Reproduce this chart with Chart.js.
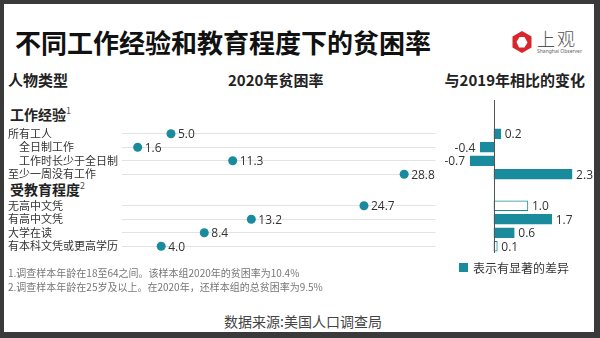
<!DOCTYPE html>
<html>
<head>
<meta charset="utf-8">
<script src="https://cdn.jsdelivr.net/npm/chart.js@4"></script>
<style>
  html, body { margin: 0; padding: 0; }
  body { width: 600px; height: 338px; background: #3a3a3a; position: relative; overflow: hidden;
         font-family: "Noto Sans CJK SC", "Noto Sans", sans-serif; color: #222; }
  .frame { position: absolute; left: 4px; top: 4px; width: 590px; height: 328px; background: #fff; }
  .t { position: absolute; white-space: nowrap; }
  .title { left: 15px; top: 26px; font-size: 26px; line-height: 32px; font-weight: 700; color: #111; }
  .head { top: 71px; font-size: 15px; line-height: 18px; font-weight: 700; color: #222; }
  .group { left: 10px; font-size: 14px; line-height: 18px; font-weight: 700; color: #222; }
  .group sup { font-size: 9px; font-weight: 400; color: #555; vertical-align: top; position: relative; top: -3px; }
  .note { left: 8px; font-size: 10px; line-height: 14px; color: #777; }
  canvas { position: absolute; }
</style>
</head>
<body>
<div class="frame"></div>

<div class="t title">不同工作经验和教育程度下的贫困率</div>

<!-- logo -->
<svg class="t" style="left:510px;top:30px" width="24" height="24" viewBox="0 0 24 24">
  <polygon points="12,1 21.5,6.5 21.5,17.5 12,23 2.5,17.5 2.5,6.5" fill="#d8262c"/>
  <polygon points="14.5,7 17.5,12.5 14.5,17.5 9,17.5 6.5,12 9.5,7" fill="#fff"/>
</svg>
<div class="t" style="left:537px;top:27px;font-size:18px;line-height:22px;color:#555;font-weight:300;letter-spacing:2px;">上观</div>
<div class="t" style="left:537px;top:48px;font-size:5px;line-height:6px;color:#666;font-family:'Noto Sans';">Shanghai Observer</div>

<div class="t head" style="left:8px;">人物类型</div>
<div class="t head" style="left:228px;">2020年贫困率</div>
<div class="t head" style="right:15px;">与2019年相比的变化</div>

<div class="t group" style="top:105px;">工作经验<sup>1</sup></div>
<div class="t group" style="top:180px;">受教育程度<sup>2</sup></div>

<canvas id="rate-work" width="432" height="74" style="left:8px;top:117px;"></canvas>
<canvas id="change-work" width="170" height="74" style="left:430px;top:117px;"></canvas>
<canvas id="rate-edu" width="432" height="74" style="left:8px;top:189px;"></canvas>
<canvas id="change-edu" width="170" height="74" style="left:430px;top:189px;"></canvas>

<div id="zero-line" style="position:absolute;top:100px;height:153px;width:1px;background:#555;"></div>

<div class="t note" style="top:266px;">1.调查样本年龄在18至64之间。该样本组2020年的贫困率为10.4%</div>
<div class="t note" style="top:280px;">2.调查样本年龄在25岁及以上。在2020年，还样本组的总贫困率为9.5%</div>

<div class="t" style="left:459px;top:263px;width:9px;height:9px;background:#1a8b9d;"></div>
<div class="t" style="left:473px;top:260px;font-size:12px;line-height:16px;color:#333;">表示有显著的差异</div>

<div class="t" style="left:0;width:606px;text-align:center;top:311px;font-size:14px;line-height:20px;color:#444;">数据来源:美国人口调查局</div>

<script>
// Data
const workLabels = ['所有工人', '\u3000全日制工作', '\u3000工作时长少于全日制', '至少一周没有工作'];
const workRate = [5.0, 1.6, 11.3, 28.8];
const workChange = [0.2, -0.4, -0.7, 2.3];
const workSignificant = [true, true, true, true];

const eduLabels = ['无高中文凭', '有高中文凭', '大学在读', '有本科文凭或更高学历'];
const eduRate = [24.7, 13.2, 8.4, 4.0];
const eduChange = [1.0, 1.7, 0.6, 0.1];
const eduSignificant = [false, true, true, false];

const rateRange = [0, 32];
const changeRange = [-1.88, 3.12];

const TEAL = '#1a8b9d';
const NUM_FONT = '12px "Open Sans", sans-serif';
const PAD = { top: 10, bottom: 10, left: 0, right: 0 };

// value labels next to the dots
const dotLabels = {
    id: 'dotLabels',
    afterDatasetsDraw(chart) {
        const ctx = chart.ctx;
        const values = chart.data.datasets[0].data;
        ctx.save();
        ctx.fillStyle = '#333';
        ctx.font = NUM_FONT;
        ctx.textAlign = 'left';
        ctx.textBaseline = 'middle';
        chart.getDatasetMeta(0).data.forEach((pt, i) => {
            ctx.fillText(values[i].x.toFixed(1), pt.x + 7, pt.y + 1);
        });
        ctx.restore();
    }
};

// value labels at the bar ends
const barLabels = {
    id: 'barLabels',
    afterDatasetsDraw(chart) {
        const ctx = chart.ctx;
        const values = chart.data.datasets[0].data;
        ctx.save();
        ctx.fillStyle = '#333';
        ctx.font = NUM_FONT;
        ctx.textBaseline = 'middle';
        chart.getDatasetMeta(0).data.forEach((bar, i) => {
            const v = values[i];
            if (v < 0) {
                ctx.textAlign = 'right';
                ctx.fillText(v.toFixed(1), bar.x - 5, bar.y + 1);
            } else {
                ctx.textAlign = 'left';
                ctx.fillText(v.toFixed(1), bar.x + 4, bar.y + 1);
            }
        });
        ctx.restore();
    }
};

function makeRateChart(id, labels, rates) {
    return new Chart(document.getElementById(id), {
        type: 'scatter',
        data: {
            labels: labels,
            datasets: [{
                data: rates.map((v, i) => ({ x: v, y: labels[i] })),
                pointRadius: 4.5,
                pointBackgroundColor: TEAL,
                pointBorderWidth: 0,
                clip: false
            }]
        },
        options: {
            responsive: false,
            animation: false,
            layout: { padding: PAD },
            plugins: { legend: { display: false }, tooltip: { enabled: false } },
            scales: {
                x: { type: 'linear', min: rateRange[0], max: rateRange[1], display: false },
                y: {
                    type: 'category',
                    labels: labels,
                    offset: true,
                    afterFit(scale) { scale.width = 114; },
                    grid: { offset: false, color: '#e3e3e3', lineWidth: 1, drawTicks: false },
                    border: { display: false },
                    ticks: {
                        autoSkip: false,
                        padding: 0,
                        crossAlign: 'far',
                        color: '#333',
                        font: { size: 11, family: '"Noto Sans CJK SC", sans-serif' }
                    }
                }
            }
        },
        plugins: [dotLabels]
    });
}

function makeChangeChart(id, labels, changes, significant) {
    return new Chart(document.getElementById(id), {
        type: 'bar',
        data: {
            labels: labels,
            datasets: [{
                data: changes,
                backgroundColor: significant.map(s => s ? TEAL : '#fff'),
                borderColor: TEAL,
                borderWidth: 1,
                borderSkipped: false,
                barThickness: 10
            }]
        },
        options: {
            indexAxis: 'y',
            responsive: false,
            animation: false,
            layout: { padding: PAD },
            plugins: { legend: { display: false }, tooltip: { enabled: false } },
            scales: {
                x: { min: changeRange[0], max: changeRange[1], display: false },
                y: { offset: true, display: false }
            }
        },
        plugins: [barLabels]
    });
}

makeRateChart('rate-work', workLabels, workRate);
makeRateChart('rate-edu', eduLabels, eduRate);
const changeWork = makeChangeChart('change-work', workLabels, workChange, workSignificant);
makeChangeChart('change-edu', eduLabels, eduChange, eduSignificant);

// zero line spanning both bar groups
const zeroX = changeWork.scales.x.getPixelForValue(0);
document.getElementById('zero-line').style.left = (430 + Math.round(zeroX)) + 'px';
</script>
</body>
</html>
